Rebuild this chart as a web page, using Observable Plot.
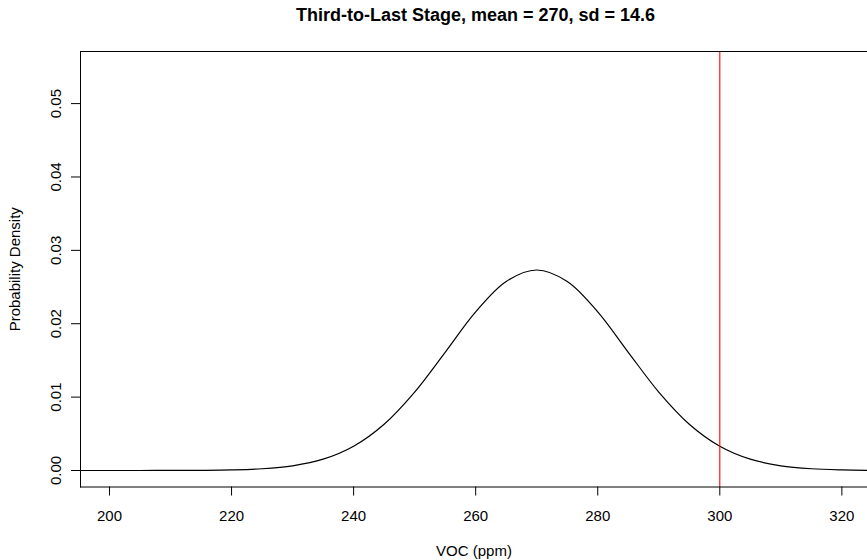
<!DOCTYPE html>
<html>
<head>
<meta charset="utf-8">
<script src="https://cdn.jsdelivr.net/npm/d3@7"></script>
<script src="https://cdn.jsdelivr.net/npm/@observablehq/plot@0.6"></script>
<style>
  html, body { margin: 0; padding: 0; background: #fff; overflow: hidden; }
  #chart svg { display: block; }
</style>
</head>
<body>
<div id="chart"></div>
<script>
const titleText = "Third-to-Last Stage, mean = 270, sd = 14.6";
const xLabel = "VOC (ppm)";
const yLabel = "Probability Density";
const xTicks = [200, 220, 240, 260, 280, 300, 320];
const yTicks = [0, 0.01, 0.02, 0.03, 0.04, 0.05];
const threshold = [300];

// curve (VOC ppm, density)
const voc = [190, 195, 200, 205, 210, 215, 220, 225, 230, 235, 240, 245, 250, 255, 260, 265, 270,
             275, 280, 285, 290, 295, 300, 305, 310, 315, 320, 325, 330];
const density = [0, 0, 0, 0.000001, 0.000006, 0.000023, 0.000078, 0.000236, 0.00064, 0.00154, 0.00331,
                 0.00631, 0.01069, 0.01611, 0.02161, 0.02576, 0.02732,
                 0.02576, 0.02161, 0.01611, 0.01069, 0.00631, 0.00331, 0.00154, 0.00064, 0.000236,
                 0.000078, 0.000023, 0.000006];

const curveData = voc.map((v, i) => ({x: v, y: density[i]}));
const font = "'Liberation Sans', Arial, Helvetica, sans-serif";

const chart = Plot.plot({
  width: 867,
  height: 560,
  marginLeft: 80,
  marginRight: 0,
  marginTop: 51,
  marginBottom: 73.5,
  style: {fontFamily: font, fontSize: "15px", color: "#000", background: "#fff"},
  x: {domain: [195.25, 324.2]},
  y: {domain: [-0.00225, 0.0571]},
  marks: [
    Plot.line(curveData, {x: "x", y: "y", curve: "catmull-rom", stroke: "#000", strokeWidth: 1.2, clip: true}),
    Plot.ruleX(threshold, {stroke: "#ff0000", strokeWidth: 1.1}),
    Plot.frame({anchor: "top", stroke: "#000"}),
    Plot.frame({anchor: "bottom", stroke: "#000"}),
    Plot.frame({anchor: "left", stroke: "#000"}),
    Plot.axisX(xTicks, {tickSize: 9, tickFormat: () => "", label: null, stroke: "#000"}),
    Plot.axisY(yTicks, {tickSize: 9, tickFormat: () => "", label: null, stroke: "#000"}),
    Plot.text(xTicks, {x: d => d, text: d => String(d), frameAnchor: "bottom", lineAnchor: "bottom", dy: 33.5, fontSize: 15, fill: "#000"}),
    Plot.text(yTicks, {y: d => d, text: d => d.toFixed(2), frameAnchor: "left", rotate: -90, textAnchor: "middle", lineAnchor: "middle", dx: -24, fontSize: 15, fill: "#000"}),
    Plot.text([xLabel], {text: d => d, frameAnchor: "bottom", lineAnchor: "bottom", dy: 69, fontSize: 15, fill: "#000"}),
    Plot.text([yLabel], {text: d => d, frameAnchor: "left", rotate: -90, textAnchor: "middle", lineAnchor: "middle", dx: -65, fontSize: 15, fill: "#000"}),
    Plot.text([titleText], {text: d => d, frameAnchor: "top", lineAnchor: "bottom", dy: -30.3, dx: 1.5, fontSize: 18, fontWeight: "bold", fill: "#000"})
  ]
});
document.getElementById("chart").appendChild(chart);
</script>
</body>
</html>
